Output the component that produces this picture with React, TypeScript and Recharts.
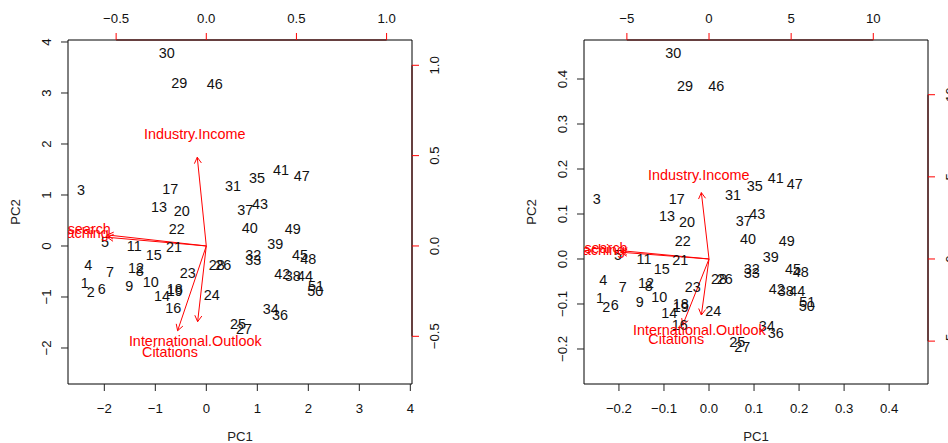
import React from 'react';
import { ScatterChart, Scatter, XAxis, YAxis, ReferenceLine } from 'recharts';

// observation ids (row numbers)
const obsIds = [
  '1', '2', '3', '4', '5', '6', '7', '8', '9', '10',
  '11', '12', '13', '14', '15', '16', '17', '18', '19', '20',
  '21', '22', '23', '24', '25', '26', '27', '28', '29', '30',
  '31', '32', '33', '34', '35', '36', '37', '38', '39', '40',
  '41', '42', '43', '44', '45', '46', '47', '48', '49', '50', '51',
];

// left panel: PC scores
const scoreX = [
  -2.384, -2.267, -2.457, -2.314, -1.986, -2.051, -1.888, -1.306, -1.51, -1.09,
  -1.412, -1.378, -0.927, -0.869, -1.031, -0.647, -0.706, -0.62, -0.62, -0.482,
  -0.633, -0.58, -0.365, 0.106, 0.622, 0.333, 0.739, 0.204, -0.529, -0.776,
  0.524, 0.922, 0.922, 1.263, 0.994, 1.445, 0.765, 1.694, 1.353, 0.851,
  1.465, 1.49, 1.053, 1.935, 1.837, 0.165, 1.871, 2.0, 1.694, 2.137, 2.151,
];
const scoreY = [
  -0.732, -0.908, 1.098, -0.379, 0.072, -0.849, -0.51, -0.49, -0.784, -0.699,
  -0.007, -0.425, 0.771, -0.98, -0.183, -1.222, 1.111, -0.837, -0.889, 0.686,
  -0.026, 0.327, -0.523, -0.967, -1.529, -0.379, -1.634, -0.379, 3.19, 3.778,
  1.17, -0.183, -0.268, -1.235, 1.327, -1.353, 0.706, -0.588, 0.033, 0.359,
  1.484, -0.549, 0.817, -0.588, -0.176, 3.17, 1.373, -0.255, 0.333, -0.876, -0.784,
];

// right panel: normalised scores
const normX = [
  -0.2421, -0.2281, -0.2494, -0.2347, -0.2021, -0.2094, -0.1917, -0.1339, -0.1539, -0.1104,
  -0.1443, -0.1399, -0.0933, -0.0881, -0.1051, -0.0651, -0.0718, -0.0629, -0.0629, -0.0489,
  -0.0637, -0.0585, -0.0362, 0.0096, 0.0629, 0.0349, 0.074, 0.0222, -0.0533, -0.0793,
  0.0533, 0.0948, 0.0948, 0.1281, 0.1015, 0.1481, 0.0771, 0.1703, 0.137, 0.0866,
  0.1481, 0.1503, 0.1073, 0.1961, 0.1865, 0.0163, 0.1903, 0.2036, 0.1725, 0.217, 0.2183,
];
const normY = [
  -0.0859, -0.106, 0.1327, -0.0467, 0.0081, -0.102, -0.0622, -0.0607, -0.0956, -0.0844,
  0.0, -0.0533, 0.0948, -0.1207, -0.0222, -0.1467, 0.1327, -0.1007, -0.1067, 0.0822,
  -0.0022, 0.04, -0.0622, -0.1156, -0.1837, -0.0437, -0.1963, -0.0437, 0.385, 0.457,
  0.1415, -0.0215, -0.0319, -0.1481, 0.1622, -0.1637, 0.0852, -0.0719, 0.0038, 0.0444,
  0.1793, -0.066, 0.1, -0.0719, -0.0215, 0.384, 0.1674, -0.0289, 0.0407, -0.1044, -0.0948,
];

// variables (loadings)
const varNames = ['Teaching', 'Research', 'Citations', 'Industry.Income', 'International.Outlook'];
const loadLabelX = [-0.7, -0.7, -0.201, -0.064, -0.061];
const loadLabelY = [0.07, 0.092, -0.588, 0.618, -0.526];
const loadTipX = [-0.549, -0.549, -0.159, -0.05, -0.048];
const loadTipY = [0.048, 0.061, -0.469, 0.491, -0.419];

const normLabelX = [-6.86, -6.83, -1.99, -0.625, -0.589];
const normLabelY = [0.55, 0.69, -4.88, 5.12, -4.33];
const normTipX = [-5.36, -5.36, -1.6, -0.467, -0.467];
const normTipY = [0.41, 0.506, -4.02, 4.04, -3.41];

// axis ticks
const scoreTicks = [-2, -1, 0, 1, 2, 3, 4];
const loadTicks = [-0.5, 0, 0.5, 1];
const normTicks = [-0.2, -0.1, 0, 0.1, 0.2, 0.3, 0.4];
const normLoadTicks = [-5, 0, 5, 10];

const FONT = '"Liberation Sans", Arial, Helvetica, sans-serif';
const RED = '#ff0000';

type Range = [number, number];

const fmt = (v: number, digits: number) => v.toFixed(digits).replace('-', '\u2212');

const makeTick = (side: string, digits: number) => (props: any) => {
  const { x, y, payload } = props;
  const label = fmt(payload.value, digits);
  if (side === 'bottom' || side === 'top') {
    const cy = side === 'bottom' ? y + 17 : y - 15;
    return (
      <text x={x} y={cy} textAnchor="middle" dominantBaseline="central" fontSize={13.2} fill="#111" fontFamily={FONT}>
        {label}
      </text>
    );
  }
  const cx = side === 'left' ? x - 15 : x + 15;
  return (
    <text
      transform={`translate(${cx},${y}) rotate(-90)`}
      textAnchor="middle"
      dominantBaseline="central"
      fontSize={13.2}
      fill="#111"
      fontFamily={FONT}
    >
      {label}
    </text>
  );
};

const ObsText = (props: any) => (
  <text x={props.cx} y={props.cy} textAnchor="middle" dominantBaseline="central" fontSize={14.4} fill="#111" fontFamily={FONT}>
    {props.payload.label}
  </text>
);

const VarText = (props: any) => (
  <text x={props.cx} y={props.cy} textAnchor="middle" dominantBaseline="central" fontSize={14.4} fill={RED} fontFamily={FONT}>
    {props.payload.label}
  </text>
);

const ArrowShape = (props: any) => {
  const { x1, y1, x2, y2 } = props;
  const ang = Math.atan2(y2 - y1, x2 - x1);
  const h = 7;
  const spread = Math.PI / 6;
  const ax = x2 - h * Math.cos(ang - spread);
  const ay = y2 - h * Math.sin(ang - spread);
  const bx = x2 - h * Math.cos(ang + spread);
  const by = y2 - h * Math.sin(ang + spread);
  return (
    <g>
      <line x1={x1} y1={y1} x2={x2} y2={y2} stroke={RED} strokeWidth={1} />
      <polyline points={`${ax},${ay} ${x2},${y2} ${bx},${by}`} fill="none" stroke={RED} strokeWidth={1} />
    </g>
  );
};

const pc1Title = (props: any) => {
  const vb = props.viewBox;
  return (
    <text x={vb.x + vb.width / 2} y={vb.y + vb.height - 6.5} textAnchor="middle" dominantBaseline="central" fontSize={13.2} fill="#222" fontFamily={FONT}>
      PC1
    </text>
  );
};

const pc2Title = (props: any) => {
  const vb = props.viewBox;
  const cx = vb.x + vb.width - 53;
  const cy = vb.y + vb.height / 2;
  return (
    <text transform={`translate(${cx},${cy}) rotate(-90)`} textAnchor="middle" dominantBaseline="central" fontSize={13.2} fill="#222" fontFamily={FONT}>
      PC2
    </text>
  );
};

interface BiplotProps {
  xs: number[];
  ys: number[];
  labelX: number[];
  labelY: number[];
  tipX: number[];
  tipY: number[];
  domX: Range;
  domY: Range;
  loadDomX: Range;
  loadDomY: Range;
  ticks: number[];
  topTicks: number[];
  digits: number;
  topDigits: number;
  leftWidth: number;
  rightWidth: number;
}

const Biplot: React.FC<BiplotProps> = ({
  xs, ys, labelX, labelY, tipX, tipY, domX, domY, loadDomX, loadDomY,
  ticks, topTicks, digits, topDigits, leftWidth, rightWidth,
}) => {
  const obs = xs.map((x, i) => ({ x, y: ys[i], label: obsIds[i] }));
  const vars = labelX.map((x, i) => ({ x, y: labelY[i], label: varNames[i] }));
  const first = topTicks[0];
  const last = topTicks[topTicks.length - 1];

  return (
    <ScatterChart width={474} height={443} margin={{ top: 0, right: 0, bottom: 0, left: 0 }} style={{ fontFamily: FONT }}>
      <XAxis
        xAxisId="pc"
        dataKey="x"
        type="number"
        orientation="bottom"
        height={59}
        domain={domX}
        ticks={ticks}
        interval={0}
        allowDataOverflow
        tickSize={7}
        tickMargin={0}
        axisLine={{ stroke: '#000' }}
        tickLine={{ stroke: '#222' }}
        tick={makeTick('bottom', digits)}
        label={{ content: pc1Title }}
      />
      <YAxis
        yAxisId="pc"
        dataKey="y"
        type="number"
        orientation="left"
        width={leftWidth}
        domain={domY}
        ticks={ticks}
        interval={0}
        allowDataOverflow
        tickSize={7}
        tickMargin={0}
        axisLine={{ stroke: '#000' }}
        tickLine={{ stroke: '#222' }}
        tick={makeTick('left', digits)}
        label={{ content: pc2Title }}
      />
      <XAxis
        xAxisId="load"
        dataKey="x"
        type="number"
        orientation="top"
        height={40}
        domain={loadDomX}
        ticks={topTicks}
        interval={0}
        allowDataOverflow
        tickSize={7}
        tickMargin={0}
        axisLine={{ stroke: '#000' }}
        tickLine={{ stroke: RED }}
        tick={makeTick('top', topDigits)}
      />
      <YAxis
        yAxisId="load"
        dataKey="y"
        type="number"
        orientation="right"
        width={rightWidth}
        domain={loadDomY}
        ticks={topTicks}
        interval={0}
        allowDataOverflow
        tickSize={7}
        tickMargin={0}
        axisLine={{ stroke: '#000' }}
        tickLine={{ stroke: RED }}
        tick={makeTick('right', topDigits)}
      />

      {/* red axis lines between the first and last loading ticks */}
      <ReferenceLine
        xAxisId="load"
        yAxisId="load"
        segment={[{ x: first, y: loadDomY[1] }, { x: last, y: loadDomY[1] }]}
        stroke="#990000"
        ifOverflow="visible"
      />
      <ReferenceLine
        xAxisId="load"
        yAxisId="load"
        segment={[{ x: loadDomX[1], y: first }, { x: loadDomX[1], y: last }]}
        stroke="#990000"
        ifOverflow="visible"
      />

      <Scatter xAxisId="pc" yAxisId="pc" data={obs} shape={ObsText} isAnimationActive={false} />

      {tipX.map((tx, i) => (
        <ReferenceLine
          key={varNames[i]}
          xAxisId="load"
          yAxisId="load"
          segment={[{ x: 0, y: 0 }, { x: tx, y: tipY[i] }]}
          shape={ArrowShape}
          ifOverflow="visible"
        />
      ))}

      <Scatter xAxisId="load" yAxisId="load" data={vars} shape={VarText} isAnimationActive={false} />
    </ScatterChart>
  );
};

export default function App() {
  return (
    <div style={{ position: 'absolute', left: 0, top: 0, width: 948, height: 443, display: 'flex', background: '#fff' }}>
      <Biplot
        xs={scoreX}
        ys={scoreY}
        labelX={loadLabelX}
        labelY={loadLabelY}
        tipX={loadTipX}
        tipY={loadTipY}
        domX={[-2.712, 4.033]}
        domY={[-2.706, 4.039]}
        loadDomX={[-0.767, 1.141]}
        loadDomY={[-0.764, 1.14]}
        ticks={scoreTicks}
        topTicks={loadTicks}
        digits={0}
        topDigits={1}
        leftWidth={68}
        rightWidth={62}
      />
      <Biplot
        xs={normX}
        ys={normY}
        labelX={normLabelX}
        labelY={normLabelY}
        tipX={normTipX}
        tipY={normTipY}
        domX={[-0.2776, 0.4863]}
        domY={[-0.2778, 0.4867]}
        loadDomX={[-7.61, 13.33]}
        loadDomY={[-7.61, 13.33]}
        ticks={normTicks}
        topTicks={normLoadTicks}
        digits={1}
        topDigits={0}
        leftWidth={110}
        rightWidth={20}
      />
    </div>
  );
}
